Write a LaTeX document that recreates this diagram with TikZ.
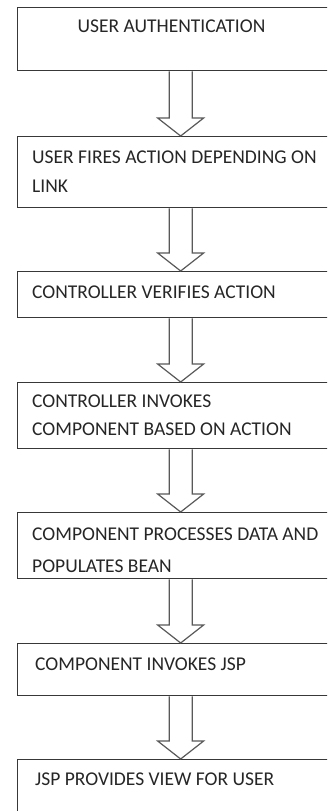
\documentclass[tikz,border=0pt]{standalone}
\usepackage{fontspec}
\setmainfont{Carlito}
\usetikzlibrary{calc}
\tikzset{
  flowbox/.style={draw=black!78, line width=1.3pt, fill=white, rectangle,
    anchor=north west, minimum width=326pt, inner sep=0pt},
  boxtext/.style={anchor=base west, inner sep=0pt, text=black!85,
    font=\fontsize{19.5}{29}\selectfont},
  blockarrow/.style={draw=black!65, line width=1.2pt, fill=white, line join=miter},
}
\newcommand{\flowarrow}[2]{%
  \draw[blockarrow]
    ($(#1.south)+(-11.5,0)$) -- ($(#2.north)+(-11.5,-18)$) --
    ($(#2.north)+(-23,-18)$) -- (#2.north) -- ($(#2.north)+(23,-18)$) --
    ($(#2.north)+(11.5,-18)$) -- ($(#1.south)+(11.5,0)$);
}
\begin{document}
\begin{tikzpicture}[x=1pt,y=-1pt]
  \useasboundingbox (0,0) rectangle (327,811);
  \clip (0,0) rectangle (327,811);
  \fill[white] (0,0) rectangle (327,811);

  \node[flowbox, minimum height=63pt] (b1) at (17,7) {};
  \node[flowbox, minimum height=71pt] (b2) at (17,136) {};
  \node[flowbox, minimum height=46pt] (b3) at (17,271) {};
  \node[flowbox, minimum height=66pt] (b4) at (17,382) {};
  \node[flowbox, minimum height=66pt] (b5) at (17,512) {};
  \node[flowbox, minimum height=52pt] (b6) at (17,643) {};
  \node[flowbox, minimum height=80pt] (b7) at (17,759) {};

  \node[boxtext, anchor=base] (t1) at (171.5,32) {USER AUTHENTICATION};
  \node[boxtext] (t2a) at (32,163) {USER FIRES ACTION DEPENDING ON};
  \node[boxtext] (t2b) at (32,192) {LINK};
  \node[boxtext] (t3) at (32,298) {CONTROLLER VERIFIES ACTION};
  \node[boxtext] (t4a) at (32,407) {CONTROLLER INVOKES};
  \node[boxtext] (t4b) at (32,435) {COMPONENT BASED ON ACTION};
  \node[boxtext] (t5a) at (32,540) {COMPONENT PROCESSES DATA AND};
  \node[boxtext] (t5b) at (32,572) {POPULATES BEAN};
  \node[boxtext] (t6) at (35,670) {COMPONENT INVOKES JSP};
  \node[boxtext] (t7) at (35,785) {JSP PROVIDES VIEW FOR USER};

  \flowarrow{b1}{b2}
  \flowarrow{b2}{b3}
  \flowarrow{b3}{b4}
  \flowarrow{b4}{b5}
  \flowarrow{b5}{b6}
  \flowarrow{b6}{b7}
\end{tikzpicture}
\end{document}
